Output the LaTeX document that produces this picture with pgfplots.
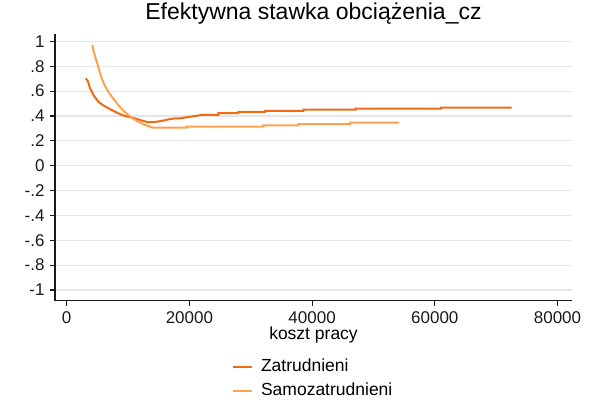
\documentclass[border=0pt]{standalone}
\usepackage{fontspec}
\setmainfont{Liberation Sans}
\usepackage{pgfplots}
\pgfplotsset{compat=1.18}
\definecolor{zatr}{HTML}{F26A14}
\definecolor{samo}{HTML}{FCA24E}
\definecolor{gridc}{HTML}{E6E6E6}
\definecolor{axc}{HTML}{1A1A1A}
\begin{document}
\begin{tikzpicture}
\useasboundingbox (0,0) rectangle (590pt,-401pt);
\begin{axis}[
    at={(55pt,-300.7pt)}, anchor=south west,
    scale only axis, width=517pt, height=266.7pt,
    xmin=-1907, xmax=82360, ymin=-1.0861, ymax=1.0595,
    axis lines*=left,
    axis line style={line width=1.4pt, axc},
    tick align=outside, major tick length=5pt,
    tick style={line width=1.2pt, axc},
    scaled x ticks=false,
    xtick={0,20000,40000,60000,80000},
    xticklabels={0,20000,40000,60000,80000},
    ytick={-1,-0.8,-0.6,-0.4,-0.2,0,0.2,0.4,0.6,0.8,1},
    yticklabels={-1,-.8,-.6,-.4,-.2,0,.2,.4,.6,.8,1},
    ymajorgrids, grid style={gridc, line width=1.2pt},
    ticklabel style={font=\fontsize{17}{20}\selectfont, text=axc},
    xticklabel style={anchor=base, yshift=-17.3pt},
    yticklabel style={anchor=east, xshift=-2pt},
    title={Efektywna stawka obciążenia\_cz},
    title style={font=\fontsize{23}{27}\selectfont, anchor=base, at={(0.5,1)}, yshift=8.5pt, inner sep=0pt},
    xlabel={koszt pracy},
    xlabel style={font=\fontsize{17.5}{20}\selectfont, anchor=base, at={(0.5,0)}, yshift=-38.8pt, inner sep=0pt},
    legend style={at={(0.3413,-0.2145)}, anchor=north west, draw=none, fill=none,
        font=\fontsize{17.5}{20}\selectfont, inner sep=0pt, row sep=7.6pt, column sep=8pt,
        nodes={inner sep=0pt, text height=13pt, text depth=4pt}},
    legend cell align=left,
    legend image code/.code={\draw[#1] (0pt,0pt) -- (19.4pt,0pt);},
]
% Zatrudnieni
\addplot[zatr, line width=2pt] coordinates {
    (3097,0.703) (3450,0.680) (3798,0.623) (4400,0.565) (5150,0.515)
    (5900,0.487) (6780,0.462) (7800,0.436) (8965,0.408) (10000,0.394)
    (11133,0.381) (12200,0.364) (13300,0.349) (14400,0.352) (15485,0.360)
    (16500,0.372) (17650,0.381) (18470,0.381) (20100,0.394) (20100,0.394)
    (22000,0.408) (24710,0.408) (24710,0.422) (27970,0.422) (27970,0.434)
    (32320,0.434) (32320,0.442) (38570,0.442) (38570,0.451) (47110,0.451)
    (47110,0.459) (61000,0.459) (61000,0.467) (72530,0.467)
};
\addlegendentry{Zatrudnieni}
% Samozatrudnieni
\addplot[samo, line width=2pt] coordinates {
    (4173,0.971) (4500,0.900) (4890,0.837) (5300,0.770) (5705,0.703)
    (6200,0.645) (6780,0.595) (7600,0.540) (8410,0.488) (9200,0.445)
    (10040,0.408) (10850,0.378) (11670,0.354) (12600,0.332) (13580,0.314)
    (14000,0.306) (19560,0.306) (19560,0.315) (32050,0.315) (32050,0.325)
    (37750,0.325) (37750,0.335) (46180,0.335) (46180,0.346) (54170,0.346)
};
\addlegendentry{Samozatrudnieni}
\end{axis}
\end{tikzpicture}
\end{document}
